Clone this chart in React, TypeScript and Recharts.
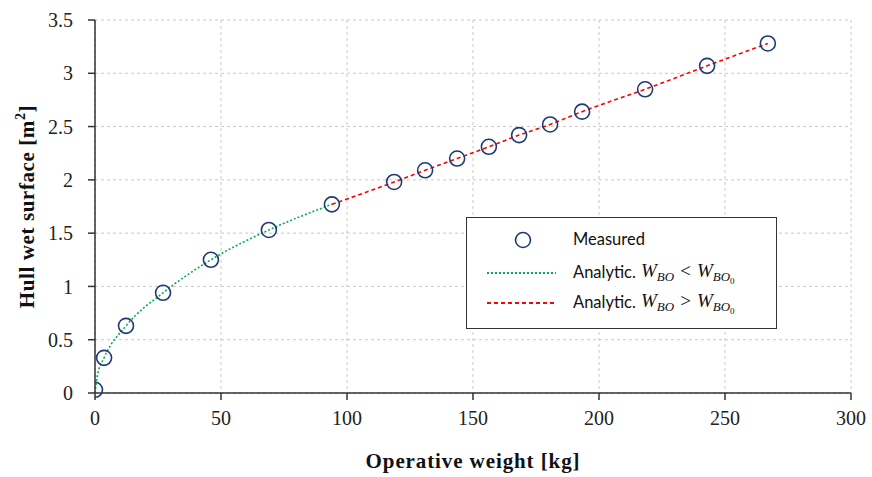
import React from 'react'
import {
  ComposedChart,
  Line,
  Scatter,
  XAxis,
  YAxis,
  CartesianGrid,
  Legend,
} from 'recharts'

// measured points (operative weight kg, wet surface m2)
const measuredX = [0, 3.6, 12.3, 27, 46, 69, 94, 118.7, 131, 143.7, 156.3, 168.3, 180.6, 193.3, 218.3, 242.9, 267]
const measuredY = [0.03, 0.33, 0.63, 0.94, 1.25, 1.53, 1.77, 1.98, 2.09, 2.2, 2.31, 2.42, 2.52, 2.64, 2.85, 3.07, 3.28]

// analytic curve below W_BO0
const lowX = [0, 1, 3.6, 12.3, 27, 46, 69, 94]
const lowY = [0, 0.17, 0.33, 0.63, 0.94, 1.25, 1.53, 1.77]

// analytic curve above W_BO0
const highX = [94, 118.7, 131, 143.7, 156.3, 168.3, 180.6, 193.3, 218.3, 242.9, 267]
const highY = [1.77, 1.98, 2.09, 2.2, 2.31, 2.42, 2.52, 2.64, 2.85, 3.07, 3.28]

const xTicks = [0, 50, 100, 150, 200, 250, 300]
const yTicks = [0, 0.5, 1, 1.5, 2, 2.5, 3, 3.5]

const measured = measuredX.map((x, i) => ({ x, y: measuredY[i] }))
const low = lowX.map((x, i) => ({ x, y: lowY[i] }))
const high = highX.map((x, i) => ({ x, y: highY[i] }))

const serif = '"Liberation Serif", "DejaVu Serif", serif'
const navy = '#1f3b73'

const Circle = (props: any) => {
  const { cx, cy } = props
  if (cx == null || cy == null) return null
  return <circle cx={cx} cy={cy} r={7.5} fill="none" stroke={navy} strokeWidth={1.6} />
}

// W_BO < W_BO0 drawn as svg text so the subscripts stay put
const Cond = ({ op }: { op: string }) => (
  <svg width={130} height={26} style={{ position: 'absolute', left: 68, top: -3 }}>
    <text x={0} y={18} fontFamily={serif} fontStyle="italic" fontSize={19} fill="#111">
      W<tspan dy={4} fontSize={13}>BO</tspan>
      <tspan dy={-4} fontStyle="normal" fontSize={19} dx={6}>{op}</tspan>
      <tspan dx={6}>W</tspan>
      <tspan dy={4} fontSize={13}>BO</tspan>
      <tspan dy={3} fontSize={9} fontStyle="normal">0</tspan>
    </text>
  </svg>
)

const LegendBox = () => {
  const row = (top: number): React.CSSProperties => ({
    position: 'absolute',
    left: 106,
    top,
    whiteSpace: 'nowrap',
    lineHeight: '20px',
  })
  return (
    <div
      style={{
        position: 'relative',
        width: 311,
        height: 112,
        boxSizing: 'border-box',
        border: '1.5px solid #333',
        background: '#fff',
        fontFamily: 'Lato, "Open Sans", sans-serif',
        fontSize: 16.5,
        color: '#111',
      }}
    >
      <svg width={311} height={112} style={{ position: 'absolute', left: -1.5, top: -1.5 }}>
        <circle cx={57} cy={23} r={7.5} fill="none" stroke={navy} strokeWidth={1.6} />
        <line x1={21} y1={56} x2={90} y2={56} stroke="#00b050" strokeWidth={1.8} strokeDasharray="2 2" />
        <line x1={21} y1={86} x2={90} y2={86} stroke="#ff0000" strokeWidth={1.8} strokeDasharray="4 3" />
      </svg>
      <div style={row(11)}>Measured</div>
      <div style={row(44)}>
        Analytic.
        <Cond op="<" />
      </div>
      <div style={row(74)}>
        Analytic.
        <Cond op=">" />
      </div>
    </div>
  )
}

export default function App() {
  return (
    <div style={{ position: 'absolute', left: 8, top: 8, width: 864, height: 469 }}>
      <ComposedChart
        width={864}
        height={469}
        margin={{ top: 12, right: 21, left: 0, bottom: 0 }}
        style={{ fontFamily: serif, overflow: 'visible' }}
      >
        <CartesianGrid stroke="#c8c8c8" strokeDasharray="3 3" />
        <XAxis
          type="number"
          dataKey="x"
          domain={[0, 300]}
          ticks={xTicks}
          height={84}
          tickSize={7}
          tickMargin={11}
          stroke="#333"
          strokeWidth={1.5}
          tick={{ fill: '#222', fontSize: 20, fontFamily: serif }}
          allowDataOverflow
          label={(p: any) => {
            const vb = p.viewBox
            return (
              <text
                x={vb.x + vb.width / 2}
                y={vb.y + 75}
                textAnchor="middle"
                fontFamily={serif}
                fontWeight="bold"
                fontSize={21}
                letterSpacing={0.9}
                fill="#111"
              >
                Operative weight [kg]
              </text>
            )
          }}
        />
        <YAxis
          type="number"
          dataKey="y"
          domain={[0, 3.5]}
          ticks={yTicks}
          width={87}
          tickSize={7}
          tickMargin={15}
          stroke="#333"
          strokeWidth={1.5}
          tick={{ fill: '#222', fontSize: 20, fontFamily: serif }}
          label={(p: any) => {
            const vb = p.viewBox
            const cx = 19
            const cy = vb.y + vb.height / 2
            return (
              <text
                x={cx}
                y={cy}
                transform={`rotate(-90 ${cx} ${cy})`}
                textAnchor="middle"
                dominantBaseline="central"
                fontFamily={serif}
                fontWeight="bold"
                fontSize={21}
                letterSpacing={0.6}
                fill="#111"
              >
                Hull wet surface [m<tspan dy={-7} fontSize={14}>2</tspan>
                <tspan dy={7}>]</tspan>
              </text>
            )
          }}
        />
        <Line
          data={low}
          dataKey="y"
          type="monotone"
          stroke="#00b050"
          strokeWidth={1.6}
          strokeDasharray="2 2"
          dot={false}
          activeDot={false}
          isAnimationActive={false}
        />
        <Line
          data={high}
          dataKey="y"
          type="monotone"
          stroke="#ff0000"
          strokeWidth={1.6}
          strokeDasharray="4 3"
          dot={false}
          activeDot={false}
          isAnimationActive={false}
        />
        <Scatter data={measured} dataKey="y" shape={Circle} isAnimationActive={false} />
        <Legend
          layout="horizontal"
          verticalAlign="middle"
          align="center"
          content={() => <LegendBox />}
          wrapperStyle={{ position: 'absolute', left: 458, top: 209, width: 311, height: 112 }}
        />
      </ComposedChart>
    </div>
  )
}
